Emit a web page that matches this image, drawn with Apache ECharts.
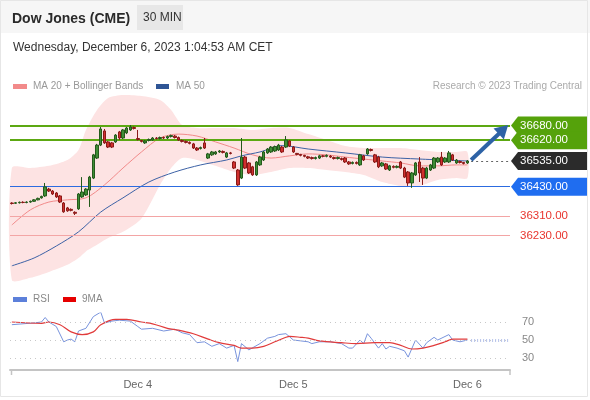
<!DOCTYPE html>
<html><head><meta charset="utf-8">
<script src="https://cdn.jsdelivr.net/npm/echarts@6/dist/echarts.min.js"></script>
<style>html,body{margin:0;padding:0;background:#fff}#c{width:590px;height:400px}</style>
</head><body><div id="c"></div>
<script>
// ---------- DATA ----------
const slotCount = 135; // candle slots on the time axis (incl. projection space)
const opens = [36363,36362,36364,36366,36365,36367,36370,36376,36384,36392,
36420,36412,36404,36392,36363,36343,36337,36325,36339,36388,
36396,36416,36465,36547,36600,36658,36613,36609,36613,36654,
36629,36650,36662,36672,36627,36619,36609,36619,36621,36629,
36627,36631,36629,36635,36637,36631,36619,36615,36611,36605,
36588,36586,36609,36547,36560,36564,36572,36574,36551,36568,
36531,36498,36465,36551,36527,36511,36478,36519,36539,36568,
36572,36576,36580,36592,36592,36617,36592,36566,36562,36558,
36552,36549,36545,36547,36556,36554,36555,36549,36545,36545,
36547,36531,36525,36529,36519,36556,36564,36582,36560,36551,
36515,36523,36498,36513,36509,36531,36506,36490,36445,36478,
36531,36506,36465,36498,36506,36531,36551,36531,36531,36560,
36527,36533,36529,36527];
const closes = [36361,36364,36366,36365,36367,36370,36376,36382,36390,36429,
36412,36400,36388,36367,36327,36331,36333,36321,36400,36408,
36420,36469,36560,36600,36666,36609,36592,36592,36641,36629,
36662,36670,36674,36668,36623,36615,36617,36623,36629,36627,
36631,36629,36635,36639,36631,36621,36615,36611,36607,36588,
36580,36590,36588,36564,36572,36572,36576,36570,36568,36566,
36506,36437,36551,36506,36486,36478,36531,36551,36572,36584,
36592,36594,36600,36572,36621,36596,36572,36562,36558,36554,
36547,36545,36549,36556,36554,36558,36551,36545,36549,36541,
36531,36523,36529,36525,36560,36539,36584,36578,36531,36511,
36527,36502,36515,36509,36513,36506,36469,36445,36486,36527,
36486,36465,36506,36519,36547,36547,36519,36547,36568,36539,
36539,36529,36525,36535];
const lows = [36357,36359,36361,36362,36362,36364,36368,36374,36381,36388,
36408,36396,36384,36363,36323,36327,36329,36314,36335,36384,
36392,36347,36461,36543,36596,36605,36588,36588,36609,36621,
36625,36645,36658,36664,36619,36611,36605,36615,36617,36623,
36623,36625,36625,36631,36627,36617,36611,36607,36603,36584,
36576,36582,36584,36543,36556,36560,36568,36566,36547,36562,
36502,36433,36461,36502,36482,36474,36474,36515,36535,36564,
36568,36572,36576,36568,36588,36592,36568,36558,36554,36550,
36543,36541,36541,36543,36550,36550,36547,36541,36541,36537,
36527,36519,36521,36521,36515,36535,36560,36574,36527,36506,
36511,36498,36494,36505,36505,36502,36465,36433,36425,36474,
36449,36437,36461,36494,36502,36527,36515,36527,36527,36535,
36523,36525,36521,36523];
const highs = [36366,36367,36369,36370,36370,36373,36379,36385,36393,36445,
36425,36416,36408,36396,36367,36347,36341,36329,36404,36469,
36424,36474,36564,36605,36674,36666,36617,36613,36645,36658,
36666,36674,36682,36676,36662,36621,36621,36627,36633,36633,
36635,36635,36639,36643,36641,36635,36623,36619,36615,36609,
36592,36594,36629,36568,36576,36576,36580,36578,36572,36572,
36535,36502,36629,36556,36531,36515,36535,36556,36576,36588,
36596,36598,36605,36596,36637,36621,36596,36568,36564,36560,
36556,36553,36553,36560,36560,36562,36559,36553,36553,36549,
36551,36535,36533,36533,36564,36560,36588,36586,36564,36556,
36531,36527,36519,36517,36517,36535,36511,36494,36490,36531,
36551,36511,36511,36523,36551,36551,36572,36551,36576,36564,
36543,36537,36531,36539];

// Bollinger band (MA20 +/-) read at candle positions
const bandIdx   = [0,5,10,15,18,20,23,26,30,35,40,43,46,50,55,60,65,70,75,80,85,90,95,100,105,110,115,120,123];
const bandUpper = [36506,36506,36515,36539,36580,36662,36744,36793,36805,36801,36785,36744,36682,36670,36670,36670,36662,36670,36670,36645,36621,36596,36588,36588,36588,36580,36572,36572,36572];
const bandLower = [36048,36057,36081,36110,36138,36165,36192,36220,36245,36300,36437,36506,36547,36539,36515,36490,36478,36490,36506,36506,36498,36490,36478,36449,36433,36433,36457,36465,36465];
const ma20Idx = [0,5,10,15,20,25,30,35,40,45,50,55,60,65,70,75,80,85,90,95,100,105,110,115,120,123];
const ma20    = [36273,36335,36367,36376,36384,36437,36506,36572,36629,36645,36637,36613,36588,36560,36547,36556,36564,36560,36551,36543,36535,36527,36515,36515,36519,36519];
const ma50Idx = [0,6,12,18,24,30,37,44,51,58,62,67,73,80,90,100,110,123];
const ma50    = [36106,36138,36187,36245,36326,36384,36449,36490,36519,36539,36556,36572,36598,36584,36568,36551,36543,36535];

// Key levels
const levels = [36680, 36620, 36535, 36430, 36310, 36230];
const projectionFrom = [124, 36539];
const projectionTo = [134, 36682];

// RSI panel
const rsiIdx = [0,6,8,9,10,12,14,15,16,17,18,20,22,24,25,27,29,32,34,35,38,41,44,46,48,50,52,54,56,58,60,61,62,64,67,69,71,72,74,76,78,80,81,83,86,89,91,92,94,95,96,97,99,100,101,102,104,106,107,109,111,112,114,115,118,119,121,123];
const rsi    = [67,69,70,75,70,65,48,50,51,48,60,63,76,81,69,71,72,71,65,62,63,60,62,58,56,47,48,43,46,41,44,26,46,39,46,52,54,56,57,50,49,48,46,48,48,46,41,41,50,46,57,52,41,46,40,43,41,38,31,50,41,47,53,50,56,50,48,50];
const rsiMaIdx = [0,8,10,13,16,19,22,24,28,31,35,38,42,45,49,53,56,60,62,65,68,71,74,75,78,80,83,89,93,98,102,105,108,111,114,117,119,122,123];
const rsiMa    = [70,68.5,70,67,59,56,59,67,73,73,70,68,63,61,57,51,47,44,41,41,43,48,53,54,53,52,49,47,46,47,47,44,40,41,44,48,51,51,51];
const rsiLevels = [70, 50, 30];

const dayLabels = ['Dec 4', 'Dec 5', 'Dec 6'];
const dayLabelIdx = [34, 76, 123];

// ---------- CHART ----------
const FONT = 'Liberation Sans, Arial, sans-serif';
const categories = Array.from({length: slotCount}, (_, i) => String(i));
const zip = (a, b) => a.map((v, i) => [v, b[i]]);
const candles = opens.map((o, i) => [o, closes[i], lows[i], highs[i]]);

const levelStyle = [
  {line:'#5ca812', w:2, type:'solid', tag:'#55a20b', text:'#fff'},
  {line:'#5ca812', w:2, type:'solid', tag:'#55a20b', text:'#fff'},
  {line:'#666', w:1.2, type:[2,3], tag:'#2b2b2b', text:'#fff', fromLast:true},
  {line:'#2c6be0', w:1, type:'solid', tag:'#1f6df0', text:'#fff'},
  {line:'#f3a5a5', w:1, type:'solid', tag:null, text:'#e8352e'},
  {line:'#f3a5a5', w:1, type:'solid', tag:null, text:'#e8352e'}
];

const markLineData = levels.map((v, i) => {
  const s = levelStyle[i];
  const ls = {color: s.line, width: s.w, type: s.type};
  if (s.fromLast) return [{coord:[opens.length, v], lineStyle: ls}, {coord:[slotCount-1, v]}];
  return {yAxis: v, lineStyle: ls};
});

const chart = echarts.init(document.getElementById('c'), null, {renderer:'canvas'});
chart.setOption({
  animation:false,
  backgroundColor:'#fff',
  textStyle:{fontFamily:FONT},
  grid:[
    {left:10, right:80, top:95, height:185},
    {left:10, right:80, top:313, height:57}
  ],
  xAxis:[
    {type:'category', gridIndex:0, data:categories, boundaryGap:true, show:false},
    {type:'category', gridIndex:1, data:categories, boundaryGap:true,
     axisLine:{show:true, lineStyle:{color:'#c4c4c4', width:2}},
     axisTick:{show:false},
     axisLabel:{color:'#666', fontSize:11, fontFamily:FONT, margin:9,
       interval:(idx)=>dayLabelIdx.indexOf(idx) >= 0,
       formatter:(v, idx)=>{const k = dayLabelIdx.indexOf(idx); return k>=0 ? dayLabels[k] : '';}},
     splitLine:{show:false}}
  ],
  yAxis:[
    {type:'value', gridIndex:0, min:36048, max:36805, show:false, splitLine:{show:false}},
    {type:'value', gridIndex:1, min:16.667, max:80, show:false, splitLine:{show:false}}
  ],
  series:[
    {type:'custom', xAxisIndex:0, yAxisIndex:0, silent:true, z:1, clip:false,
     data:[[0, 36500]],
     renderItem:(params, api)=>{
       const pts = [];
       for (let k=0;k<bandIdx.length;k++) pts.push(api.coord([bandIdx[k], bandUpper[k]]));
       for (let k=bandIdx.length-1;k>=0;k--) pts.push(api.coord([bandIdx[k], bandLower[k]]));
       return {type:'polygon', shape:{points:pts, smooth:0.25}, style:{fill:'#fde3e3'}};
     }},
    {type:'line', xAxisIndex:0, yAxisIndex:0, data:zip(ma20Idx, ma20), smooth:0.3, symbol:'none',
     lineStyle:{color:'#f28a8a', width:1}, z:2, silent:true},
    {type:'line', xAxisIndex:0, yAxisIndex:0, data:zip(ma50Idx, ma50), smooth:0.3, symbol:'none',
     lineStyle:{color:'#3d62a6', width:1}, z:2, silent:true},
    {type:'candlestick', xAxisIndex:0, yAxisIndex:0, data:candles, barWidth:3, z:4,
     itemStyle:{color:'#3f8d36', color0:'#d0302e', borderColor:'#245a1c', borderColor0:'#8a1a18', borderWidth:1},
     markLine:{silent:true, symbol:['none','none'], label:{show:false}, data:markLineData, z:3}},
    // projection arrow
    {type:'custom', xAxisIndex:0, yAxisIndex:0, silent:true, z:6, clip:false,
     data:[[projectionFrom[0], projectionFrom[1], projectionTo[0], projectionTo[1]]],
     renderItem:(params, api)=>{
       const p0 = api.coord([api.value(0), api.value(1)]);
       const p1 = api.coord([api.value(2), api.value(3)]);
       const dx = p1[0]-p0[0], dy = p1[1]-p0[1];
       const L = Math.sqrt(dx*dx+dy*dy), ux = dx/L, uy = dy/L, nx = -uy, ny = ux;
       const head = 13, hw = 7.5;
       const bx = p1[0]-ux*head, by = p1[1]-uy*head;
       return {type:'group', children:[
         {type:'line', shape:{x1:p0[0], y1:p0[1], x2:bx+ux*1, y2:by+uy*1}, style:{stroke:'#2d62a6', lineWidth:4}},
         {type:'polygon', shape:{points:[[p1[0],p1[1]],[bx+nx*hw, by+ny*hw],[bx-nx*hw, by-ny*hw]]}, style:{fill:'#2d62a6'}}
       ]};
     }},
    {type:'custom', xAxisIndex:0, yAxisIndex:0, silent:true, z:10, clip:false,
     data:levels.map(v=>[0, v]),
     renderItem:(params, api)=>{
       const i = params.dataIndex;
       const s = levelStyle[i];
       const y = api.coord([0, api.value(1)])[1];
       const cs = params.coordSys;
       const x0 = cs.x + cs.width + 1;
       const children = [];
       if (s.tag) {
         children.push({type:'polygon', shape:{points:[[x0, y], [x0+7, y-9], [x0+76, y-9], [x0+76, y+9], [x0+7, y+9]]},
           style:{fill:s.tag}});
       }
       children.push({type:'text', style:{text:api.value(1).toFixed(2), x:x0+9, y:y, fill:s.text,
         font:'11.5px '+FONT, textVerticalAlign:'middle', verticalAlign:'middle'}});
       return {type:'group', children};
     }},
    {type:'line', xAxisIndex:1, yAxisIndex:1, data:zip(rsiIdx, rsi), symbol:'none',
     lineStyle:{color:'#7893dc', width:1}, z:3, silent:true,
     markLine:{silent:true, symbol:['none','none'],
       data:rsiLevels.map(v=>({yAxis:v})),
       lineStyle:{color:'#c8c8c8', type:[1,4], width:1.2},
       label:{show:true, position:'end', distance:12, color:'#888', fontSize:11, fontFamily:FONT, formatter:(p)=>String(p.value)}}},
    {type:'line', xAxisIndex:1, yAxisIndex:1, data:zip(rsiMaIdx, rsiMa), smooth:0.35, symbol:'none',
     lineStyle:{color:'#e13b3b', width:1.2}, z:4, silent:true,
     markLine:{silent:true, symbol:['none','none'], label:{show:false},
       data:[[{coord:[opens.length, 50]}, {coord:[slotCount-1, 50]}]],
       lineStyle:{color:'#b7c3ea', type:[1,2], width:3}}}
  ],
  graphic:[
    {type:'rect', shape:{x:0, y:0, width:590, height:33}, style:{fill:'#f6f6f6'}, z:-1},
    {type:'rect', shape:{x:0.5, y:0.5, width:587, height:396}, style:{fill:'none', stroke:'#e6e6e6', lineWidth:1}, z:-1},
    {type:'text', left:12, top:12, style:{text:'Dow Jones (CME)', font:'bold 14px '+FONT, fill:'#2a2a2a'}},
    {type:'rect', shape:{x:137, y:5, width:46, height:25}, style:{fill:'#e7e7e7'}},
    {type:'text', left:143, top:12, style:{text:'30 MIN', font:'12px '+FONT, fill:'#333'}},
    {type:'text', left:13, top:42, style:{text:'Wednesday, December 6, 2023 1:04:53 AM CET', font:'12px '+FONT, fill:'#333'}},
    {type:'rect', shape:{x:13, y:84, width:14, height:5}, style:{fill:'#f28a8a'}},
    {type:'text', left:33, top:81, style:{text:'MA 20 + Bollinger Bands', font:'10px '+FONT, fill:'#999'}},
    {type:'rect', shape:{x:156, y:84, width:13, height:5}, style:{fill:'#2f5595'}},
    {type:'text', left:176, top:81, style:{text:'MA 50', font:'10px '+FONT, fill:'#999'}},
    {type:'text', right:8, top:81, style:{text:'Research © 2023 Trading Central', font:'10px '+FONT, fill:'#aaa'}},
    {type:'rect', shape:{x:13, y:297, width:14, height:5}, style:{fill:'#5c80da'}},
    {type:'text', left:33, top:294, style:{text:'RSI', font:'10px '+FONT, fill:'#888'}},
    {type:'rect', shape:{x:63, y:297, width:13, height:5}, style:{fill:'#e60000'}},
    {type:'text', left:82, top:294, style:{text:'9MA', font:'10px '+FONT, fill:'#888'}},
    {type:'line', shape:{x1:11.5, y1:370, x2:11.5, y2:375}, style:{stroke:'#c4c4c4', lineWidth:1.5}},
    {type:'line', shape:{x1:510, y1:370, x2:510, y2:375}, style:{stroke:'#c4c4c4', lineWidth:1.5}}
  ]
});
</script></body></html>
